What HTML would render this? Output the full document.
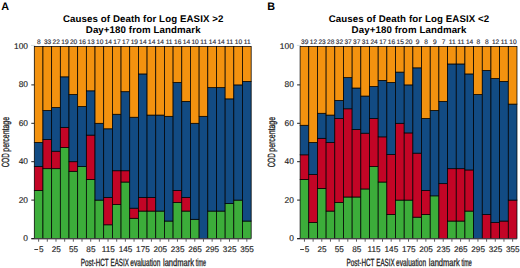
<!DOCTYPE html>
<html><head><meta charset="utf-8"><style>
html,body{margin:0;padding:0;background:#fff;}
svg{display:block;}
text{text-rendering:geometricPrecision;}
</style></head><body>
<svg width="520" height="268" viewBox="0 0 520 268">
<rect width="520" height="268" fill="#fff"/>
<text x="1.3" y="9.8" font-size="10.8" font-weight="bold" font-family="Liberation Sans, sans-serif">A</text>
<text x="143.24" y="21.6" font-size="9.7" letter-spacing="0.1" font-weight="bold" text-anchor="middle" font-family="Liberation Sans, sans-serif">Causes of Death for Log EASIX &gt;2</text>
<text x="143.24" y="32.6" font-size="9.7" letter-spacing="0.1" font-weight="bold" text-anchor="middle" font-family="Liberation Sans, sans-serif">Day+180 from Landmark</text>
<line x1="31.00" y1="45.4" x2="35.30" y2="45.4" stroke="#d3dde0" stroke-width="1"/>
<rect x="34.30" y="190.50" width="8.675" height="48.00" fill="#3cad3a" stroke="#000" stroke-width="0.75"/>
<rect x="34.30" y="166.50" width="8.675" height="24.00" fill="#c30526" stroke="#000" stroke-width="0.75"/>
<rect x="34.30" y="142.50" width="8.675" height="24.00" fill="#124b83" stroke="#000" stroke-width="0.75"/>
<rect x="34.30" y="46.50" width="8.675" height="96.00" fill="#f3920f" stroke="#000" stroke-width="0.75"/>
<text x="38.94" y="43.6" font-size="6.6" text-anchor="middle" fill="#2a2a35" stroke="#2a2a35" stroke-width="0.15" font-family="Liberation Sans, sans-serif">8</text>
<line x1="38.64" y1="238.5" x2="38.64" y2="241.7" stroke="#333" stroke-width="0.8"/>
<line x1="34.34" y1="249.5" x2="38.14" y2="249.5" stroke="#333" stroke-width="0.95"/>
<text x="38.94" y="251.6" font-size="8.2" fill="#222" stroke="#222" stroke-width="0.15" font-family="Liberation Sans, sans-serif">5</text>
<rect x="42.97" y="168.68" width="8.675" height="69.82" fill="#3cad3a" stroke="#000" stroke-width="0.75"/>
<rect x="42.97" y="139.59" width="8.675" height="29.09" fill="#c30526" stroke="#000" stroke-width="0.75"/>
<rect x="42.97" y="110.50" width="8.675" height="29.09" fill="#124b83" stroke="#000" stroke-width="0.75"/>
<rect x="42.97" y="46.50" width="8.675" height="64.00" fill="#f3920f" stroke="#000" stroke-width="0.75"/>
<text x="47.61" y="43.6" font-size="6.6" text-anchor="middle" fill="#2a2a35" stroke="#2a2a35" stroke-width="0.15" font-family="Liberation Sans, sans-serif">33</text>
<line x1="47.31" y1="238.5" x2="47.31" y2="241.7" stroke="#333" stroke-width="0.8"/>
<rect x="51.65" y="168.68" width="8.675" height="69.82" fill="#3cad3a" stroke="#000" stroke-width="0.75"/>
<rect x="51.65" y="151.23" width="8.675" height="17.45" fill="#c30526" stroke="#000" stroke-width="0.75"/>
<rect x="51.65" y="107.59" width="8.675" height="43.64" fill="#124b83" stroke="#000" stroke-width="0.75"/>
<rect x="51.65" y="46.50" width="8.675" height="61.09" fill="#f3920f" stroke="#000" stroke-width="0.75"/>
<text x="56.29" y="43.6" font-size="6.6" text-anchor="middle" fill="#2a2a35" stroke="#2a2a35" stroke-width="0.15" font-family="Liberation Sans, sans-serif">22</text>
<line x1="55.99" y1="238.5" x2="55.99" y2="241.7" stroke="#333" stroke-width="0.8"/>
<text x="56.19" y="251.6" font-size="8.2" text-anchor="middle" fill="#222" stroke="#222" stroke-width="0.15" font-family="Liberation Sans, sans-serif">25</text>
<rect x="60.33" y="147.55" width="8.675" height="90.95" fill="#3cad3a" stroke="#000" stroke-width="0.75"/>
<rect x="60.33" y="127.34" width="8.675" height="20.21" fill="#c30526" stroke="#000" stroke-width="0.75"/>
<rect x="60.33" y="76.82" width="8.675" height="50.53" fill="#124b83" stroke="#000" stroke-width="0.75"/>
<rect x="60.33" y="46.50" width="8.675" height="30.32" fill="#f3920f" stroke="#000" stroke-width="0.75"/>
<text x="64.96" y="43.6" font-size="6.6" text-anchor="middle" fill="#2a2a35" stroke="#2a2a35" stroke-width="0.15" font-family="Liberation Sans, sans-serif">19</text>
<line x1="64.66" y1="238.5" x2="64.66" y2="241.7" stroke="#333" stroke-width="0.8"/>
<rect x="69.00" y="171.30" width="8.675" height="67.20" fill="#3cad3a" stroke="#000" stroke-width="0.75"/>
<rect x="69.00" y="161.70" width="8.675" height="9.60" fill="#c30526" stroke="#000" stroke-width="0.75"/>
<rect x="69.00" y="94.50" width="8.675" height="67.20" fill="#124b83" stroke="#000" stroke-width="0.75"/>
<rect x="69.00" y="46.50" width="8.675" height="48.00" fill="#f3920f" stroke="#000" stroke-width="0.75"/>
<text x="73.64" y="43.6" font-size="6.6" text-anchor="middle" fill="#2a2a35" stroke="#2a2a35" stroke-width="0.15" font-family="Liberation Sans, sans-serif">20</text>
<line x1="73.34" y1="238.5" x2="73.34" y2="241.7" stroke="#333" stroke-width="0.8"/>
<text x="73.54" y="251.6" font-size="8.2" text-anchor="middle" fill="#222" stroke="#222" stroke-width="0.15" font-family="Liberation Sans, sans-serif">55</text>
<rect x="77.67" y="166.50" width="8.675" height="72.00" fill="#3cad3a" stroke="#000" stroke-width="0.75"/>
<rect x="77.67" y="106.50" width="8.675" height="60.00" fill="#124b83" stroke="#000" stroke-width="0.75"/>
<rect x="77.67" y="46.50" width="8.675" height="60.00" fill="#f3920f" stroke="#000" stroke-width="0.75"/>
<text x="82.31" y="43.6" font-size="6.6" text-anchor="middle" fill="#2a2a35" stroke="#2a2a35" stroke-width="0.15" font-family="Liberation Sans, sans-serif">16</text>
<line x1="82.01" y1="238.5" x2="82.01" y2="241.7" stroke="#333" stroke-width="0.8"/>
<rect x="86.35" y="179.42" width="8.675" height="59.08" fill="#3cad3a" stroke="#000" stroke-width="0.75"/>
<rect x="86.35" y="135.12" width="8.675" height="44.31" fill="#c30526" stroke="#000" stroke-width="0.75"/>
<rect x="86.35" y="90.81" width="8.675" height="44.31" fill="#124b83" stroke="#000" stroke-width="0.75"/>
<rect x="86.35" y="46.50" width="8.675" height="44.31" fill="#f3920f" stroke="#000" stroke-width="0.75"/>
<text x="90.99" y="43.6" font-size="6.6" text-anchor="middle" fill="#2a2a35" stroke="#2a2a35" stroke-width="0.15" font-family="Liberation Sans, sans-serif">13</text>
<line x1="90.69" y1="238.5" x2="90.69" y2="241.7" stroke="#333" stroke-width="0.8"/>
<text x="90.89" y="251.6" font-size="8.2" text-anchor="middle" fill="#222" stroke="#222" stroke-width="0.15" font-family="Liberation Sans, sans-serif">85</text>
<rect x="95.03" y="200.10" width="8.675" height="38.40" fill="#3cad3a" stroke="#000" stroke-width="0.75"/>
<rect x="95.03" y="123.30" width="8.675" height="76.80" fill="#124b83" stroke="#000" stroke-width="0.75"/>
<rect x="95.03" y="46.50" width="8.675" height="76.80" fill="#f3920f" stroke="#000" stroke-width="0.75"/>
<text x="99.66" y="43.6" font-size="6.6" text-anchor="middle" fill="#2a2a35" stroke="#2a2a35" stroke-width="0.15" font-family="Liberation Sans, sans-serif">10</text>
<line x1="99.36" y1="238.5" x2="99.36" y2="241.7" stroke="#333" stroke-width="0.8"/>
<rect x="103.70" y="224.79" width="8.675" height="13.71" fill="#3cad3a" stroke="#000" stroke-width="0.75"/>
<rect x="103.70" y="197.36" width="8.675" height="27.43" fill="#c30526" stroke="#000" stroke-width="0.75"/>
<rect x="103.70" y="128.79" width="8.675" height="68.57" fill="#124b83" stroke="#000" stroke-width="0.75"/>
<rect x="103.70" y="46.50" width="8.675" height="82.29" fill="#f3920f" stroke="#000" stroke-width="0.75"/>
<text x="108.34" y="43.6" font-size="6.6" text-anchor="middle" fill="#2a2a35" stroke="#2a2a35" stroke-width="0.15" font-family="Liberation Sans, sans-serif">14</text>
<line x1="108.04" y1="238.5" x2="108.04" y2="241.7" stroke="#333" stroke-width="0.8"/>
<text x="108.24" y="251.6" font-size="8.2" text-anchor="middle" fill="#222" stroke="#222" stroke-width="0.15" font-family="Liberation Sans, sans-serif">115</text>
<rect x="112.38" y="204.62" width="8.675" height="33.88" fill="#3cad3a" stroke="#000" stroke-width="0.75"/>
<rect x="112.38" y="170.74" width="8.675" height="33.88" fill="#c30526" stroke="#000" stroke-width="0.75"/>
<rect x="112.38" y="114.26" width="8.675" height="56.47" fill="#124b83" stroke="#000" stroke-width="0.75"/>
<rect x="112.38" y="46.50" width="8.675" height="67.76" fill="#f3920f" stroke="#000" stroke-width="0.75"/>
<text x="117.01" y="43.6" font-size="6.6" text-anchor="middle" fill="#2a2a35" stroke="#2a2a35" stroke-width="0.15" font-family="Liberation Sans, sans-serif">17</text>
<line x1="116.71" y1="238.5" x2="116.71" y2="241.7" stroke="#333" stroke-width="0.8"/>
<rect x="121.05" y="182.03" width="8.675" height="56.47" fill="#3cad3a" stroke="#000" stroke-width="0.75"/>
<rect x="121.05" y="170.74" width="8.675" height="11.29" fill="#c30526" stroke="#000" stroke-width="0.75"/>
<rect x="121.05" y="91.68" width="8.675" height="79.06" fill="#124b83" stroke="#000" stroke-width="0.75"/>
<rect x="121.05" y="46.50" width="8.675" height="45.18" fill="#f3920f" stroke="#000" stroke-width="0.75"/>
<text x="125.69" y="43.6" font-size="6.6" text-anchor="middle" fill="#2a2a35" stroke="#2a2a35" stroke-width="0.15" font-family="Liberation Sans, sans-serif">17</text>
<line x1="125.39" y1="238.5" x2="125.39" y2="241.7" stroke="#333" stroke-width="0.8"/>
<text x="125.59" y="251.6" font-size="8.2" text-anchor="middle" fill="#222" stroke="#222" stroke-width="0.15" font-family="Liberation Sans, sans-serif">145</text>
<rect x="129.73" y="218.29" width="8.675" height="20.21" fill="#3cad3a" stroke="#000" stroke-width="0.75"/>
<rect x="129.73" y="208.18" width="8.675" height="10.11" fill="#c30526" stroke="#000" stroke-width="0.75"/>
<rect x="129.73" y="117.24" width="8.675" height="90.95" fill="#124b83" stroke="#000" stroke-width="0.75"/>
<rect x="129.73" y="46.50" width="8.675" height="70.74" fill="#f3920f" stroke="#000" stroke-width="0.75"/>
<text x="134.36" y="43.6" font-size="6.6" text-anchor="middle" fill="#2a2a35" stroke="#2a2a35" stroke-width="0.15" font-family="Liberation Sans, sans-serif">19</text>
<line x1="134.06" y1="238.5" x2="134.06" y2="241.7" stroke="#333" stroke-width="0.8"/>
<rect x="138.40" y="211.07" width="8.675" height="27.43" fill="#3cad3a" stroke="#000" stroke-width="0.75"/>
<rect x="138.40" y="197.36" width="8.675" height="13.71" fill="#c30526" stroke="#000" stroke-width="0.75"/>
<rect x="138.40" y="73.93" width="8.675" height="123.43" fill="#124b83" stroke="#000" stroke-width="0.75"/>
<rect x="138.40" y="46.50" width="8.675" height="27.43" fill="#f3920f" stroke="#000" stroke-width="0.75"/>
<text x="143.04" y="43.6" font-size="6.6" text-anchor="middle" fill="#2a2a35" stroke="#2a2a35" stroke-width="0.15" font-family="Liberation Sans, sans-serif">14</text>
<line x1="142.74" y1="238.5" x2="142.74" y2="241.7" stroke="#333" stroke-width="0.8"/>
<text x="142.94" y="251.6" font-size="8.2" text-anchor="middle" fill="#222" stroke="#222" stroke-width="0.15" font-family="Liberation Sans, sans-serif">175</text>
<rect x="147.07" y="211.07" width="8.675" height="27.43" fill="#3cad3a" stroke="#000" stroke-width="0.75"/>
<rect x="147.07" y="197.36" width="8.675" height="13.71" fill="#c30526" stroke="#000" stroke-width="0.75"/>
<rect x="147.07" y="115.07" width="8.675" height="82.29" fill="#124b83" stroke="#000" stroke-width="0.75"/>
<rect x="147.07" y="46.50" width="8.675" height="68.57" fill="#f3920f" stroke="#000" stroke-width="0.75"/>
<text x="151.71" y="43.6" font-size="6.6" text-anchor="middle" fill="#2a2a35" stroke="#2a2a35" stroke-width="0.15" font-family="Liberation Sans, sans-serif">14</text>
<line x1="151.41" y1="238.5" x2="151.41" y2="241.7" stroke="#333" stroke-width="0.8"/>
<rect x="155.75" y="211.07" width="8.675" height="27.43" fill="#3cad3a" stroke="#000" stroke-width="0.75"/>
<rect x="155.75" y="115.07" width="8.675" height="96.00" fill="#124b83" stroke="#000" stroke-width="0.75"/>
<rect x="155.75" y="46.50" width="8.675" height="68.57" fill="#f3920f" stroke="#000" stroke-width="0.75"/>
<text x="160.39" y="43.6" font-size="6.6" text-anchor="middle" fill="#2a2a35" stroke="#2a2a35" stroke-width="0.15" font-family="Liberation Sans, sans-serif">14</text>
<line x1="160.09" y1="238.5" x2="160.09" y2="241.7" stroke="#333" stroke-width="0.8"/>
<text x="160.29" y="251.6" font-size="8.2" text-anchor="middle" fill="#222" stroke="#222" stroke-width="0.15" font-family="Liberation Sans, sans-serif">205</text>
<rect x="164.43" y="221.05" width="8.675" height="17.45" fill="#3cad3a" stroke="#000" stroke-width="0.75"/>
<rect x="164.43" y="116.32" width="8.675" height="104.73" fill="#124b83" stroke="#000" stroke-width="0.75"/>
<rect x="164.43" y="46.50" width="8.675" height="69.82" fill="#f3920f" stroke="#000" stroke-width="0.75"/>
<text x="169.06" y="43.6" font-size="6.6" text-anchor="middle" fill="#2a2a35" stroke="#2a2a35" stroke-width="0.15" font-family="Liberation Sans, sans-serif">11</text>
<line x1="168.76" y1="238.5" x2="168.76" y2="241.7" stroke="#333" stroke-width="0.8"/>
<rect x="173.10" y="202.50" width="8.675" height="36.00" fill="#3cad3a" stroke="#000" stroke-width="0.75"/>
<rect x="173.10" y="190.50" width="8.675" height="12.00" fill="#c30526" stroke="#000" stroke-width="0.75"/>
<rect x="173.10" y="82.50" width="8.675" height="108.00" fill="#124b83" stroke="#000" stroke-width="0.75"/>
<rect x="173.10" y="46.50" width="8.675" height="36.00" fill="#f3920f" stroke="#000" stroke-width="0.75"/>
<text x="177.74" y="43.6" font-size="6.6" text-anchor="middle" fill="#2a2a35" stroke="#2a2a35" stroke-width="0.15" font-family="Liberation Sans, sans-serif">16</text>
<line x1="177.44" y1="238.5" x2="177.44" y2="241.7" stroke="#333" stroke-width="0.8"/>
<text x="177.64" y="251.6" font-size="8.2" text-anchor="middle" fill="#222" stroke="#222" stroke-width="0.15" font-family="Liberation Sans, sans-serif">235</text>
<rect x="181.78" y="211.07" width="8.675" height="27.43" fill="#3cad3a" stroke="#000" stroke-width="0.75"/>
<rect x="181.78" y="197.36" width="8.675" height="13.71" fill="#c30526" stroke="#000" stroke-width="0.75"/>
<rect x="181.78" y="101.36" width="8.675" height="96.00" fill="#124b83" stroke="#000" stroke-width="0.75"/>
<rect x="181.78" y="46.50" width="8.675" height="54.86" fill="#f3920f" stroke="#000" stroke-width="0.75"/>
<text x="186.41" y="43.6" font-size="6.6" text-anchor="middle" fill="#2a2a35" stroke="#2a2a35" stroke-width="0.15" font-family="Liberation Sans, sans-serif">14</text>
<line x1="186.11" y1="238.5" x2="186.11" y2="241.7" stroke="#333" stroke-width="0.8"/>
<rect x="190.45" y="219.30" width="8.675" height="19.20" fill="#3cad3a" stroke="#000" stroke-width="0.75"/>
<rect x="190.45" y="123.30" width="8.675" height="96.00" fill="#124b83" stroke="#000" stroke-width="0.75"/>
<rect x="190.45" y="46.50" width="8.675" height="76.80" fill="#f3920f" stroke="#000" stroke-width="0.75"/>
<text x="195.09" y="43.6" font-size="6.6" text-anchor="middle" fill="#2a2a35" stroke="#2a2a35" stroke-width="0.15" font-family="Liberation Sans, sans-serif">10</text>
<line x1="194.79" y1="238.5" x2="194.79" y2="241.7" stroke="#333" stroke-width="0.8"/>
<text x="194.99" y="251.6" font-size="8.2" text-anchor="middle" fill="#222" stroke="#222" stroke-width="0.15" font-family="Liberation Sans, sans-serif">265</text>
<rect x="199.12" y="116.32" width="8.675" height="122.18" fill="#124b83" stroke="#000" stroke-width="0.75"/>
<rect x="199.12" y="46.50" width="8.675" height="69.82" fill="#f3920f" stroke="#000" stroke-width="0.75"/>
<text x="203.76" y="43.6" font-size="6.6" text-anchor="middle" fill="#2a2a35" stroke="#2a2a35" stroke-width="0.15" font-family="Liberation Sans, sans-serif">11</text>
<line x1="203.46" y1="238.5" x2="203.46" y2="241.7" stroke="#333" stroke-width="0.8"/>
<rect x="207.80" y="211.07" width="8.675" height="27.43" fill="#3cad3a" stroke="#000" stroke-width="0.75"/>
<rect x="207.80" y="87.64" width="8.675" height="123.43" fill="#124b83" stroke="#000" stroke-width="0.75"/>
<rect x="207.80" y="46.50" width="8.675" height="41.14" fill="#f3920f" stroke="#000" stroke-width="0.75"/>
<text x="212.44" y="43.6" font-size="6.6" text-anchor="middle" fill="#2a2a35" stroke="#2a2a35" stroke-width="0.15" font-family="Liberation Sans, sans-serif">14</text>
<line x1="212.14" y1="238.5" x2="212.14" y2="241.7" stroke="#333" stroke-width="0.8"/>
<text x="212.34" y="251.6" font-size="8.2" text-anchor="middle" fill="#222" stroke="#222" stroke-width="0.15" font-family="Liberation Sans, sans-serif">295</text>
<rect x="216.48" y="211.07" width="8.675" height="27.43" fill="#3cad3a" stroke="#000" stroke-width="0.75"/>
<rect x="216.48" y="87.64" width="8.675" height="123.43" fill="#124b83" stroke="#000" stroke-width="0.75"/>
<rect x="216.48" y="46.50" width="8.675" height="41.14" fill="#f3920f" stroke="#000" stroke-width="0.75"/>
<text x="221.11" y="43.6" font-size="6.6" text-anchor="middle" fill="#2a2a35" stroke="#2a2a35" stroke-width="0.15" font-family="Liberation Sans, sans-serif">14</text>
<line x1="220.81" y1="238.5" x2="220.81" y2="241.7" stroke="#333" stroke-width="0.8"/>
<rect x="225.15" y="203.59" width="8.675" height="34.91" fill="#3cad3a" stroke="#000" stroke-width="0.75"/>
<rect x="225.15" y="98.86" width="8.675" height="104.73" fill="#124b83" stroke="#000" stroke-width="0.75"/>
<rect x="225.15" y="46.50" width="8.675" height="52.36" fill="#f3920f" stroke="#000" stroke-width="0.75"/>
<text x="229.79" y="43.6" font-size="6.6" text-anchor="middle" fill="#2a2a35" stroke="#2a2a35" stroke-width="0.15" font-family="Liberation Sans, sans-serif">11</text>
<line x1="229.49" y1="238.5" x2="229.49" y2="241.7" stroke="#333" stroke-width="0.8"/>
<text x="229.69" y="251.6" font-size="8.2" text-anchor="middle" fill="#222" stroke="#222" stroke-width="0.15" font-family="Liberation Sans, sans-serif">325</text>
<rect x="233.82" y="200.10" width="8.675" height="38.40" fill="#3cad3a" stroke="#000" stroke-width="0.75"/>
<rect x="233.82" y="84.90" width="8.675" height="115.20" fill="#124b83" stroke="#000" stroke-width="0.75"/>
<rect x="233.82" y="46.50" width="8.675" height="38.40" fill="#f3920f" stroke="#000" stroke-width="0.75"/>
<text x="238.46" y="43.6" font-size="6.6" text-anchor="middle" fill="#2a2a35" stroke="#2a2a35" stroke-width="0.15" font-family="Liberation Sans, sans-serif">10</text>
<line x1="238.16" y1="238.5" x2="238.16" y2="241.7" stroke="#333" stroke-width="0.8"/>
<rect x="242.50" y="221.05" width="8.675" height="17.45" fill="#3cad3a" stroke="#000" stroke-width="0.75"/>
<rect x="242.50" y="81.41" width="8.675" height="139.64" fill="#124b83" stroke="#000" stroke-width="0.75"/>
<rect x="242.50" y="46.50" width="8.675" height="34.91" fill="#f3920f" stroke="#000" stroke-width="0.75"/>
<text x="247.14" y="43.6" font-size="6.6" text-anchor="middle" fill="#2a2a35" stroke="#2a2a35" stroke-width="0.15" font-family="Liberation Sans, sans-serif">11</text>
<line x1="246.84" y1="238.5" x2="246.84" y2="241.7" stroke="#333" stroke-width="0.8"/>
<text x="247.04" y="251.6" font-size="8.2" text-anchor="middle" fill="#222" stroke="#222" stroke-width="0.15" font-family="Liberation Sans, sans-serif">355</text>
<line x1="31.30" y1="239.0" x2="251.18" y2="239.0" stroke="#6a5a6a" stroke-width="0.9"/>
<line x1="31.30" y1="238.50" x2="34.30" y2="238.50" stroke="#222" stroke-width="1"/>
<text x="28.00" y="240.90" font-size="8.4" text-anchor="end" fill="#222" stroke="#222" stroke-width="0.15" font-family="Liberation Sans, sans-serif">0</text>
<line x1="31.30" y1="200.10" x2="34.30" y2="200.10" stroke="#222" stroke-width="1"/>
<text x="28.00" y="202.50" font-size="8.4" text-anchor="end" fill="#222" stroke="#222" stroke-width="0.15" font-family="Liberation Sans, sans-serif">20</text>
<line x1="31.30" y1="161.70" x2="34.30" y2="161.70" stroke="#222" stroke-width="1"/>
<text x="28.00" y="164.10" font-size="8.4" text-anchor="end" fill="#222" stroke="#222" stroke-width="0.15" font-family="Liberation Sans, sans-serif">40</text>
<line x1="31.30" y1="123.30" x2="34.30" y2="123.30" stroke="#222" stroke-width="1"/>
<text x="28.00" y="125.70" font-size="8.4" text-anchor="end" fill="#222" stroke="#222" stroke-width="0.15" font-family="Liberation Sans, sans-serif">60</text>
<line x1="31.30" y1="84.90" x2="34.30" y2="84.90" stroke="#222" stroke-width="1"/>
<text x="28.00" y="87.30" font-size="8.4" text-anchor="end" fill="#222" stroke="#222" stroke-width="0.15" font-family="Liberation Sans, sans-serif">80</text>
<text x="28.00" y="48.90" font-size="8.4" text-anchor="end" fill="#222" stroke="#222" stroke-width="0.15" font-family="Liberation Sans, sans-serif">100</text>
<text x="80.80" y="265.6" textLength="27.90" lengthAdjust="spacingAndGlyphs" font-size="10.4" fill="#222" stroke="#222" stroke-width="0.3" font-family="Liberation Sans, sans-serif">Post-HCT</text>
<text x="110.50" y="265.6" textLength="18.30" lengthAdjust="spacingAndGlyphs" font-size="10.4" fill="#222" stroke="#222" stroke-width="0.3" font-family="Liberation Sans, sans-serif">EASIX</text>
<text x="130.30" y="265.6" textLength="30.00" lengthAdjust="spacingAndGlyphs" font-size="10.4" fill="#222" stroke="#222" stroke-width="0.3" font-family="Liberation Sans, sans-serif">evaluation</text>
<text x="163.00" y="265.6" textLength="31.00" lengthAdjust="spacingAndGlyphs" font-size="10.4" fill="#222" stroke="#222" stroke-width="0.3" font-family="Liberation Sans, sans-serif">landmark</text>
<text x="195.80" y="265.6" textLength="10.30" lengthAdjust="spacingAndGlyphs" font-size="10.4" fill="#222" stroke="#222" stroke-width="0.3" font-family="Liberation Sans, sans-serif">time</text>
<text transform="rotate(-90)" x="-151.70" y="8.70" textLength="34.70" lengthAdjust="spacingAndGlyphs" font-size="10.4" fill="#222" stroke="#222" stroke-width="0.3" font-family="Liberation Sans, sans-serif">percentage</text>
<text transform="rotate(-90)" x="-167.30" y="8.70" textLength="14.00" lengthAdjust="spacingAndGlyphs" font-size="10.4" fill="#222" stroke="#222" stroke-width="0.3" font-family="Liberation Sans, sans-serif">COD</text>
<text x="267.2" y="9.8" font-size="10.8" font-weight="bold" font-family="Liberation Sans, sans-serif">B</text>
<text x="409.04" y="21.6" font-size="9.7" letter-spacing="0.1" font-weight="bold" text-anchor="middle" font-family="Liberation Sans, sans-serif">Causes of Death for Log EASIX &lt;2</text>
<text x="409.04" y="32.6" font-size="9.7" letter-spacing="0.1" font-weight="bold" text-anchor="middle" font-family="Liberation Sans, sans-serif">Day+180 from Landmark</text>
<line x1="296.80" y1="45.4" x2="301.10" y2="45.4" stroke="#d3dde0" stroke-width="1"/>
<rect x="300.10" y="179.42" width="8.675" height="59.08" fill="#3cad3a" stroke="#000" stroke-width="0.75"/>
<rect x="300.10" y="154.81" width="8.675" height="24.62" fill="#c30526" stroke="#000" stroke-width="0.75"/>
<rect x="300.10" y="125.27" width="8.675" height="29.54" fill="#124b83" stroke="#000" stroke-width="0.75"/>
<rect x="300.10" y="46.50" width="8.675" height="78.77" fill="#f3920f" stroke="#000" stroke-width="0.75"/>
<text x="304.74" y="43.6" font-size="6.6" text-anchor="middle" fill="#2a2a35" stroke="#2a2a35" stroke-width="0.15" font-family="Liberation Sans, sans-serif">39</text>
<line x1="304.44" y1="238.5" x2="304.44" y2="241.7" stroke="#333" stroke-width="0.8"/>
<line x1="300.14" y1="249.5" x2="303.94" y2="249.5" stroke="#333" stroke-width="0.95"/>
<text x="304.74" y="251.6" font-size="8.2" fill="#222" stroke="#222" stroke-width="0.15" font-family="Liberation Sans, sans-serif">5</text>
<rect x="308.78" y="222.50" width="8.675" height="16.00" fill="#3cad3a" stroke="#000" stroke-width="0.75"/>
<rect x="308.78" y="174.50" width="8.675" height="48.00" fill="#c30526" stroke="#000" stroke-width="0.75"/>
<rect x="308.78" y="142.50" width="8.675" height="32.00" fill="#124b83" stroke="#000" stroke-width="0.75"/>
<rect x="308.78" y="46.50" width="8.675" height="96.00" fill="#f3920f" stroke="#000" stroke-width="0.75"/>
<text x="313.41" y="43.6" font-size="6.6" text-anchor="middle" fill="#2a2a35" stroke="#2a2a35" stroke-width="0.15" font-family="Liberation Sans, sans-serif">12</text>
<line x1="313.11" y1="238.5" x2="313.11" y2="241.7" stroke="#333" stroke-width="0.8"/>
<rect x="317.45" y="188.41" width="8.675" height="50.09" fill="#3cad3a" stroke="#000" stroke-width="0.75"/>
<rect x="317.45" y="138.33" width="8.675" height="50.09" fill="#c30526" stroke="#000" stroke-width="0.75"/>
<rect x="317.45" y="113.28" width="8.675" height="25.04" fill="#124b83" stroke="#000" stroke-width="0.75"/>
<rect x="317.45" y="46.50" width="8.675" height="66.78" fill="#f3920f" stroke="#000" stroke-width="0.75"/>
<text x="322.09" y="43.6" font-size="6.6" text-anchor="middle" fill="#2a2a35" stroke="#2a2a35" stroke-width="0.15" font-family="Liberation Sans, sans-serif">23</text>
<line x1="321.79" y1="238.5" x2="321.79" y2="241.7" stroke="#333" stroke-width="0.8"/>
<text x="321.99" y="251.6" font-size="8.2" text-anchor="middle" fill="#222" stroke="#222" stroke-width="0.15" font-family="Liberation Sans, sans-serif">25</text>
<rect x="326.12" y="211.07" width="8.675" height="27.43" fill="#3cad3a" stroke="#000" stroke-width="0.75"/>
<rect x="326.12" y="142.50" width="8.675" height="68.57" fill="#c30526" stroke="#000" stroke-width="0.75"/>
<rect x="326.12" y="115.07" width="8.675" height="27.43" fill="#124b83" stroke="#000" stroke-width="0.75"/>
<rect x="326.12" y="46.50" width="8.675" height="68.57" fill="#f3920f" stroke="#000" stroke-width="0.75"/>
<text x="330.76" y="43.6" font-size="6.6" text-anchor="middle" fill="#2a2a35" stroke="#2a2a35" stroke-width="0.15" font-family="Liberation Sans, sans-serif">28</text>
<line x1="330.46" y1="238.5" x2="330.46" y2="241.7" stroke="#333" stroke-width="0.8"/>
<rect x="334.80" y="202.50" width="8.675" height="36.00" fill="#3cad3a" stroke="#000" stroke-width="0.75"/>
<rect x="334.80" y="118.50" width="8.675" height="84.00" fill="#c30526" stroke="#000" stroke-width="0.75"/>
<rect x="334.80" y="100.50" width="8.675" height="18.00" fill="#124b83" stroke="#000" stroke-width="0.75"/>
<rect x="334.80" y="46.50" width="8.675" height="54.00" fill="#f3920f" stroke="#000" stroke-width="0.75"/>
<text x="339.44" y="43.6" font-size="6.6" text-anchor="middle" fill="#2a2a35" stroke="#2a2a35" stroke-width="0.15" font-family="Liberation Sans, sans-serif">32</text>
<line x1="339.14" y1="238.5" x2="339.14" y2="241.7" stroke="#333" stroke-width="0.8"/>
<text x="339.34" y="251.6" font-size="8.2" text-anchor="middle" fill="#222" stroke="#222" stroke-width="0.15" font-family="Liberation Sans, sans-serif">55</text>
<rect x="343.48" y="196.99" width="8.675" height="41.51" fill="#3cad3a" stroke="#000" stroke-width="0.75"/>
<rect x="343.48" y="108.77" width="8.675" height="88.22" fill="#c30526" stroke="#000" stroke-width="0.75"/>
<rect x="343.48" y="77.64" width="8.675" height="31.14" fill="#124b83" stroke="#000" stroke-width="0.75"/>
<rect x="343.48" y="46.50" width="8.675" height="31.14" fill="#f3920f" stroke="#000" stroke-width="0.75"/>
<text x="348.11" y="43.6" font-size="6.6" text-anchor="middle" fill="#2a2a35" stroke="#2a2a35" stroke-width="0.15" font-family="Liberation Sans, sans-serif">37</text>
<line x1="347.81" y1="238.5" x2="347.81" y2="241.7" stroke="#333" stroke-width="0.8"/>
<rect x="352.15" y="196.99" width="8.675" height="41.51" fill="#3cad3a" stroke="#000" stroke-width="0.75"/>
<rect x="352.15" y="129.53" width="8.675" height="67.46" fill="#c30526" stroke="#000" stroke-width="0.75"/>
<rect x="352.15" y="88.01" width="8.675" height="41.51" fill="#124b83" stroke="#000" stroke-width="0.75"/>
<rect x="352.15" y="46.50" width="8.675" height="41.51" fill="#f3920f" stroke="#000" stroke-width="0.75"/>
<text x="356.79" y="43.6" font-size="6.6" text-anchor="middle" fill="#2a2a35" stroke="#2a2a35" stroke-width="0.15" font-family="Liberation Sans, sans-serif">37</text>
<line x1="356.49" y1="238.5" x2="356.49" y2="241.7" stroke="#333" stroke-width="0.8"/>
<text x="356.69" y="251.6" font-size="8.2" text-anchor="middle" fill="#222" stroke="#222" stroke-width="0.15" font-family="Liberation Sans, sans-serif">85</text>
<rect x="360.83" y="188.95" width="8.675" height="49.55" fill="#3cad3a" stroke="#000" stroke-width="0.75"/>
<rect x="360.83" y="133.21" width="8.675" height="55.74" fill="#c30526" stroke="#000" stroke-width="0.75"/>
<rect x="360.83" y="96.05" width="8.675" height="37.16" fill="#124b83" stroke="#000" stroke-width="0.75"/>
<rect x="360.83" y="46.50" width="8.675" height="49.55" fill="#f3920f" stroke="#000" stroke-width="0.75"/>
<text x="365.46" y="43.6" font-size="6.6" text-anchor="middle" fill="#2a2a35" stroke="#2a2a35" stroke-width="0.15" font-family="Liberation Sans, sans-serif">31</text>
<line x1="365.16" y1="238.5" x2="365.16" y2="241.7" stroke="#333" stroke-width="0.8"/>
<rect x="369.50" y="166.50" width="8.675" height="72.00" fill="#3cad3a" stroke="#000" stroke-width="0.75"/>
<rect x="369.50" y="118.50" width="8.675" height="48.00" fill="#c30526" stroke="#000" stroke-width="0.75"/>
<rect x="369.50" y="86.50" width="8.675" height="32.00" fill="#124b83" stroke="#000" stroke-width="0.75"/>
<rect x="369.50" y="46.50" width="8.675" height="40.00" fill="#f3920f" stroke="#000" stroke-width="0.75"/>
<text x="374.14" y="43.6" font-size="6.6" text-anchor="middle" fill="#2a2a35" stroke="#2a2a35" stroke-width="0.15" font-family="Liberation Sans, sans-serif">24</text>
<line x1="373.84" y1="238.5" x2="373.84" y2="241.7" stroke="#333" stroke-width="0.8"/>
<text x="374.04" y="251.6" font-size="8.2" text-anchor="middle" fill="#222" stroke="#222" stroke-width="0.15" font-family="Liberation Sans, sans-serif">115</text>
<rect x="378.18" y="182.03" width="8.675" height="56.47" fill="#3cad3a" stroke="#000" stroke-width="0.75"/>
<rect x="378.18" y="136.85" width="8.675" height="45.18" fill="#c30526" stroke="#000" stroke-width="0.75"/>
<rect x="378.18" y="80.38" width="8.675" height="56.47" fill="#124b83" stroke="#000" stroke-width="0.75"/>
<rect x="378.18" y="46.50" width="8.675" height="33.88" fill="#f3920f" stroke="#000" stroke-width="0.75"/>
<text x="382.81" y="43.6" font-size="6.6" text-anchor="middle" fill="#2a2a35" stroke="#2a2a35" stroke-width="0.15" font-family="Liberation Sans, sans-serif">17</text>
<line x1="382.51" y1="238.5" x2="382.51" y2="241.7" stroke="#333" stroke-width="0.8"/>
<rect x="386.85" y="214.50" width="8.675" height="24.00" fill="#3cad3a" stroke="#000" stroke-width="0.75"/>
<rect x="386.85" y="154.50" width="8.675" height="60.00" fill="#c30526" stroke="#000" stroke-width="0.75"/>
<rect x="386.85" y="82.50" width="8.675" height="72.00" fill="#124b83" stroke="#000" stroke-width="0.75"/>
<rect x="386.85" y="46.50" width="8.675" height="36.00" fill="#f3920f" stroke="#000" stroke-width="0.75"/>
<text x="391.49" y="43.6" font-size="6.6" text-anchor="middle" fill="#2a2a35" stroke="#2a2a35" stroke-width="0.15" font-family="Liberation Sans, sans-serif">16</text>
<line x1="391.19" y1="238.5" x2="391.19" y2="241.7" stroke="#333" stroke-width="0.8"/>
<text x="391.39" y="251.6" font-size="8.2" text-anchor="middle" fill="#222" stroke="#222" stroke-width="0.15" font-family="Liberation Sans, sans-serif">145</text>
<rect x="395.53" y="200.10" width="8.675" height="38.40" fill="#3cad3a" stroke="#000" stroke-width="0.75"/>
<rect x="395.53" y="123.30" width="8.675" height="76.80" fill="#c30526" stroke="#000" stroke-width="0.75"/>
<rect x="395.53" y="72.10" width="8.675" height="51.20" fill="#124b83" stroke="#000" stroke-width="0.75"/>
<rect x="395.53" y="46.50" width="8.675" height="25.60" fill="#f3920f" stroke="#000" stroke-width="0.75"/>
<text x="400.16" y="43.6" font-size="6.6" text-anchor="middle" fill="#2a2a35" stroke="#2a2a35" stroke-width="0.15" font-family="Liberation Sans, sans-serif">15</text>
<line x1="399.86" y1="238.5" x2="399.86" y2="241.7" stroke="#333" stroke-width="0.8"/>
<rect x="404.20" y="200.10" width="8.675" height="38.40" fill="#3cad3a" stroke="#000" stroke-width="0.75"/>
<rect x="404.20" y="132.90" width="8.675" height="67.20" fill="#c30526" stroke="#000" stroke-width="0.75"/>
<rect x="404.20" y="84.90" width="8.675" height="48.00" fill="#124b83" stroke="#000" stroke-width="0.75"/>
<rect x="404.20" y="46.50" width="8.675" height="38.40" fill="#f3920f" stroke="#000" stroke-width="0.75"/>
<text x="408.84" y="43.6" font-size="6.6" text-anchor="middle" fill="#2a2a35" stroke="#2a2a35" stroke-width="0.15" font-family="Liberation Sans, sans-serif">20</text>
<line x1="408.54" y1="238.5" x2="408.54" y2="241.7" stroke="#333" stroke-width="0.8"/>
<text x="408.74" y="251.6" font-size="8.2" text-anchor="middle" fill="#222" stroke="#222" stroke-width="0.15" font-family="Liberation Sans, sans-serif">175</text>
<rect x="412.88" y="217.17" width="8.675" height="21.33" fill="#3cad3a" stroke="#000" stroke-width="0.75"/>
<rect x="412.88" y="153.17" width="8.675" height="64.00" fill="#c30526" stroke="#000" stroke-width="0.75"/>
<rect x="412.88" y="67.83" width="8.675" height="85.33" fill="#124b83" stroke="#000" stroke-width="0.75"/>
<rect x="412.88" y="46.50" width="8.675" height="21.33" fill="#f3920f" stroke="#000" stroke-width="0.75"/>
<text x="417.51" y="43.6" font-size="6.6" text-anchor="middle" fill="#2a2a35" stroke="#2a2a35" stroke-width="0.15" font-family="Liberation Sans, sans-serif">9</text>
<line x1="417.21" y1="238.5" x2="417.21" y2="241.7" stroke="#333" stroke-width="0.8"/>
<rect x="421.55" y="214.50" width="8.675" height="24.00" fill="#3cad3a" stroke="#000" stroke-width="0.75"/>
<rect x="421.55" y="190.50" width="8.675" height="24.00" fill="#c30526" stroke="#000" stroke-width="0.75"/>
<rect x="421.55" y="118.50" width="8.675" height="72.00" fill="#124b83" stroke="#000" stroke-width="0.75"/>
<rect x="421.55" y="46.50" width="8.675" height="72.00" fill="#f3920f" stroke="#000" stroke-width="0.75"/>
<text x="426.19" y="43.6" font-size="6.6" text-anchor="middle" fill="#2a2a35" stroke="#2a2a35" stroke-width="0.15" font-family="Liberation Sans, sans-serif">8</text>
<line x1="425.89" y1="238.5" x2="425.89" y2="241.7" stroke="#333" stroke-width="0.8"/>
<text x="426.09" y="251.6" font-size="8.2" text-anchor="middle" fill="#222" stroke="#222" stroke-width="0.15" font-family="Liberation Sans, sans-serif">205</text>
<rect x="430.23" y="195.83" width="8.675" height="42.67" fill="#3cad3a" stroke="#000" stroke-width="0.75"/>
<rect x="430.23" y="110.50" width="8.675" height="85.33" fill="#124b83" stroke="#000" stroke-width="0.75"/>
<rect x="430.23" y="46.50" width="8.675" height="64.00" fill="#f3920f" stroke="#000" stroke-width="0.75"/>
<text x="434.86" y="43.6" font-size="6.6" text-anchor="middle" fill="#2a2a35" stroke="#2a2a35" stroke-width="0.15" font-family="Liberation Sans, sans-serif">9</text>
<line x1="434.56" y1="238.5" x2="434.56" y2="241.7" stroke="#333" stroke-width="0.8"/>
<rect x="438.90" y="183.64" width="8.675" height="54.86" fill="#c30526" stroke="#000" stroke-width="0.75"/>
<rect x="438.90" y="101.36" width="8.675" height="82.29" fill="#124b83" stroke="#000" stroke-width="0.75"/>
<rect x="438.90" y="46.50" width="8.675" height="54.86" fill="#f3920f" stroke="#000" stroke-width="0.75"/>
<text x="443.54" y="43.6" font-size="6.6" text-anchor="middle" fill="#2a2a35" stroke="#2a2a35" stroke-width="0.15" font-family="Liberation Sans, sans-serif">7</text>
<line x1="443.24" y1="238.5" x2="443.24" y2="241.7" stroke="#333" stroke-width="0.8"/>
<text x="443.44" y="251.6" font-size="8.2" text-anchor="middle" fill="#222" stroke="#222" stroke-width="0.15" font-family="Liberation Sans, sans-serif">235</text>
<rect x="447.58" y="221.05" width="8.675" height="17.45" fill="#3cad3a" stroke="#000" stroke-width="0.75"/>
<rect x="447.58" y="168.68" width="8.675" height="52.36" fill="#c30526" stroke="#000" stroke-width="0.75"/>
<rect x="447.58" y="63.95" width="8.675" height="104.73" fill="#124b83" stroke="#000" stroke-width="0.75"/>
<rect x="447.58" y="46.50" width="8.675" height="17.45" fill="#f3920f" stroke="#000" stroke-width="0.75"/>
<text x="452.21" y="43.6" font-size="6.6" text-anchor="middle" fill="#2a2a35" stroke="#2a2a35" stroke-width="0.15" font-family="Liberation Sans, sans-serif">11</text>
<line x1="451.91" y1="238.5" x2="451.91" y2="241.7" stroke="#333" stroke-width="0.8"/>
<rect x="456.25" y="221.05" width="8.675" height="17.45" fill="#3cad3a" stroke="#000" stroke-width="0.75"/>
<rect x="456.25" y="168.68" width="8.675" height="52.36" fill="#c30526" stroke="#000" stroke-width="0.75"/>
<rect x="456.25" y="63.95" width="8.675" height="104.73" fill="#124b83" stroke="#000" stroke-width="0.75"/>
<rect x="456.25" y="46.50" width="8.675" height="17.45" fill="#f3920f" stroke="#000" stroke-width="0.75"/>
<text x="460.89" y="43.6" font-size="6.6" text-anchor="middle" fill="#2a2a35" stroke="#2a2a35" stroke-width="0.15" font-family="Liberation Sans, sans-serif">11</text>
<line x1="460.59" y1="238.5" x2="460.59" y2="241.7" stroke="#333" stroke-width="0.8"/>
<text x="460.79" y="251.6" font-size="8.2" text-anchor="middle" fill="#222" stroke="#222" stroke-width="0.15" font-family="Liberation Sans, sans-serif">265</text>
<rect x="464.93" y="211.07" width="8.675" height="27.43" fill="#3cad3a" stroke="#000" stroke-width="0.75"/>
<rect x="464.93" y="169.93" width="8.675" height="41.14" fill="#c30526" stroke="#000" stroke-width="0.75"/>
<rect x="464.93" y="73.93" width="8.675" height="96.00" fill="#124b83" stroke="#000" stroke-width="0.75"/>
<rect x="464.93" y="46.50" width="8.675" height="27.43" fill="#f3920f" stroke="#000" stroke-width="0.75"/>
<text x="469.56" y="43.6" font-size="6.6" text-anchor="middle" fill="#2a2a35" stroke="#2a2a35" stroke-width="0.15" font-family="Liberation Sans, sans-serif">14</text>
<line x1="469.26" y1="238.5" x2="469.26" y2="241.7" stroke="#333" stroke-width="0.8"/>
<rect x="473.60" y="94.50" width="8.675" height="144.00" fill="#124b83" stroke="#000" stroke-width="0.75"/>
<rect x="473.60" y="46.50" width="8.675" height="48.00" fill="#f3920f" stroke="#000" stroke-width="0.75"/>
<text x="478.24" y="43.6" font-size="6.6" text-anchor="middle" fill="#2a2a35" stroke="#2a2a35" stroke-width="0.15" font-family="Liberation Sans, sans-serif">8</text>
<line x1="477.94" y1="238.5" x2="477.94" y2="241.7" stroke="#333" stroke-width="0.8"/>
<text x="478.14" y="251.6" font-size="8.2" text-anchor="middle" fill="#222" stroke="#222" stroke-width="0.15" font-family="Liberation Sans, sans-serif">295</text>
<rect x="482.28" y="214.50" width="8.675" height="24.00" fill="#c30526" stroke="#000" stroke-width="0.75"/>
<rect x="482.28" y="70.50" width="8.675" height="144.00" fill="#124b83" stroke="#000" stroke-width="0.75"/>
<rect x="482.28" y="46.50" width="8.675" height="24.00" fill="#f3920f" stroke="#000" stroke-width="0.75"/>
<text x="486.91" y="43.6" font-size="6.6" text-anchor="middle" fill="#2a2a35" stroke="#2a2a35" stroke-width="0.15" font-family="Liberation Sans, sans-serif">8</text>
<line x1="486.61" y1="238.5" x2="486.61" y2="241.7" stroke="#333" stroke-width="0.8"/>
<rect x="490.95" y="222.50" width="8.675" height="16.00" fill="#c30526" stroke="#000" stroke-width="0.75"/>
<rect x="490.95" y="78.50" width="8.675" height="144.00" fill="#124b83" stroke="#000" stroke-width="0.75"/>
<rect x="490.95" y="46.50" width="8.675" height="32.00" fill="#f3920f" stroke="#000" stroke-width="0.75"/>
<text x="495.59" y="43.6" font-size="6.6" text-anchor="middle" fill="#2a2a35" stroke="#2a2a35" stroke-width="0.15" font-family="Liberation Sans, sans-serif">12</text>
<line x1="495.29" y1="238.5" x2="495.29" y2="241.7" stroke="#333" stroke-width="0.8"/>
<text x="495.49" y="251.6" font-size="8.2" text-anchor="middle" fill="#222" stroke="#222" stroke-width="0.15" font-family="Liberation Sans, sans-serif">325</text>
<rect x="499.62" y="221.05" width="8.675" height="17.45" fill="#c30526" stroke="#000" stroke-width="0.75"/>
<rect x="499.62" y="81.41" width="8.675" height="139.64" fill="#124b83" stroke="#000" stroke-width="0.75"/>
<rect x="499.62" y="46.50" width="8.675" height="34.91" fill="#f3920f" stroke="#000" stroke-width="0.75"/>
<text x="504.26" y="43.6" font-size="6.6" text-anchor="middle" fill="#2a2a35" stroke="#2a2a35" stroke-width="0.15" font-family="Liberation Sans, sans-serif">11</text>
<line x1="503.96" y1="238.5" x2="503.96" y2="241.7" stroke="#333" stroke-width="0.8"/>
<rect x="508.30" y="200.10" width="8.675" height="38.40" fill="#c30526" stroke="#000" stroke-width="0.75"/>
<rect x="508.30" y="104.10" width="8.675" height="96.00" fill="#124b83" stroke="#000" stroke-width="0.75"/>
<rect x="508.30" y="46.50" width="8.675" height="57.60" fill="#f3920f" stroke="#000" stroke-width="0.75"/>
<text x="512.94" y="43.6" font-size="6.6" text-anchor="middle" fill="#2a2a35" stroke="#2a2a35" stroke-width="0.15" font-family="Liberation Sans, sans-serif">10</text>
<line x1="512.64" y1="238.5" x2="512.64" y2="241.7" stroke="#333" stroke-width="0.8"/>
<text x="512.84" y="251.6" font-size="8.2" text-anchor="middle" fill="#222" stroke="#222" stroke-width="0.15" font-family="Liberation Sans, sans-serif">355</text>
<line x1="297.10" y1="239.0" x2="516.98" y2="239.0" stroke="#6a5a6a" stroke-width="0.9"/>
<line x1="297.10" y1="238.50" x2="300.10" y2="238.50" stroke="#222" stroke-width="1"/>
<text x="293.80" y="240.90" font-size="8.4" text-anchor="end" fill="#222" stroke="#222" stroke-width="0.15" font-family="Liberation Sans, sans-serif">0</text>
<line x1="297.10" y1="200.10" x2="300.10" y2="200.10" stroke="#222" stroke-width="1"/>
<text x="293.80" y="202.50" font-size="8.4" text-anchor="end" fill="#222" stroke="#222" stroke-width="0.15" font-family="Liberation Sans, sans-serif">20</text>
<line x1="297.10" y1="161.70" x2="300.10" y2="161.70" stroke="#222" stroke-width="1"/>
<text x="293.80" y="164.10" font-size="8.4" text-anchor="end" fill="#222" stroke="#222" stroke-width="0.15" font-family="Liberation Sans, sans-serif">40</text>
<line x1="297.10" y1="123.30" x2="300.10" y2="123.30" stroke="#222" stroke-width="1"/>
<text x="293.80" y="125.70" font-size="8.4" text-anchor="end" fill="#222" stroke="#222" stroke-width="0.15" font-family="Liberation Sans, sans-serif">60</text>
<line x1="297.10" y1="84.90" x2="300.10" y2="84.90" stroke="#222" stroke-width="1"/>
<text x="293.80" y="87.30" font-size="8.4" text-anchor="end" fill="#222" stroke="#222" stroke-width="0.15" font-family="Liberation Sans, sans-serif">80</text>
<text x="293.80" y="48.90" font-size="8.4" text-anchor="end" fill="#222" stroke="#222" stroke-width="0.15" font-family="Liberation Sans, sans-serif">100</text>
<text x="346.60" y="265.6" textLength="27.90" lengthAdjust="spacingAndGlyphs" font-size="10.4" fill="#222" stroke="#222" stroke-width="0.3" font-family="Liberation Sans, sans-serif">Post-HCT</text>
<text x="376.30" y="265.6" textLength="18.30" lengthAdjust="spacingAndGlyphs" font-size="10.4" fill="#222" stroke="#222" stroke-width="0.3" font-family="Liberation Sans, sans-serif">EASIX</text>
<text x="396.10" y="265.6" textLength="30.00" lengthAdjust="spacingAndGlyphs" font-size="10.4" fill="#222" stroke="#222" stroke-width="0.3" font-family="Liberation Sans, sans-serif">evaluation</text>
<text x="428.80" y="265.6" textLength="31.00" lengthAdjust="spacingAndGlyphs" font-size="10.4" fill="#222" stroke="#222" stroke-width="0.3" font-family="Liberation Sans, sans-serif">landmark</text>
<text x="461.60" y="265.6" textLength="10.30" lengthAdjust="spacingAndGlyphs" font-size="10.4" fill="#222" stroke="#222" stroke-width="0.3" font-family="Liberation Sans, sans-serif">time</text>
<text transform="rotate(-90)" x="-151.70" y="274.50" textLength="34.70" lengthAdjust="spacingAndGlyphs" font-size="10.4" fill="#222" stroke="#222" stroke-width="0.3" font-family="Liberation Sans, sans-serif">percentage</text>
<text transform="rotate(-90)" x="-167.30" y="274.50" textLength="14.00" lengthAdjust="spacingAndGlyphs" font-size="10.4" fill="#222" stroke="#222" stroke-width="0.3" font-family="Liberation Sans, sans-serif">COD</text>
</svg>
</body></html>
